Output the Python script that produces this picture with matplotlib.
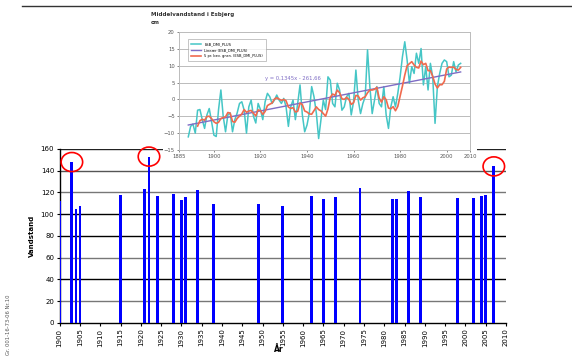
import numpy as np
import pandas as pd
import matplotlib.pyplot as plt
from matplotlib.patches import Ellipse

# --- storm surge maxima (bar chart) ---
storm_years = [1900, 1903, 1904, 1905, 1915, 1921, 1922, 1924, 1928, 1930, 1931,
               1934, 1938, 1949, 1955, 1962, 1965, 1968, 1974, 1982, 1983, 1986,
               1989, 1998, 2002, 2004, 2005, 2007]
storm_levels = [112, 148, 105, 108, 118, 123, 153, 117, 119, 113, 116,
                122, 109, 109, 108, 117, 114, 116, 124, 114, 114, 121,
                116, 115, 115, 117, 118, 144]
marked_years = [1903, 1922, 2007]

# --- annual mean sea level Esbjerg (inset) ---
msl_years = list(range(1889, 2007))
msl_values = [-11.1, -8.0, -7.3, -10.0, -3.2, -3.0, -6.0, -8.6, -4.6, -2.7,
              -6.6, -10.6, -11.0, -3.0, 2.8, -5.0, -9.6, -4.6, -4.0, -9.6,
              -6.0, -4.0, -1.2, -0.7, -3.2, -10.0, -2.2, -0.2, -5.0, -7.0,
              -1.2, -3.0, -6.0, -0.7, 1.8, 0.8, -1.2, -0.2, 1.3, -0.2,
              -1.2, 0.3, -2.2, -8.0, -2.2, -0.2, -6.0, -1.2, 4.3, -4.6,
              -9.6, -7.6, -4.0, 3.8, 0.8, -4.0, -11.6, -6.0, -0.2, -3.0,
              6.7, 5.7, -1.2, -2.2, 4.8, 2.8, -3.2, -2.2, 0.8, 1.8,
              -4.6, -0.7, 8.7, -0.2, -4.2, -1.2, 0.8, 14.7, 3.8, -4.2,
              -0.2, 3.8, -1.2, -2.2, 3.8, -4.6, -8.6, -2.2, 0.8, -2.2,
              1.8, 6.7, 12.7, 17.1, 11.7, 4.8, 9.7, 7.7, 13.7, 10.7,
              15.1, 4.3, 9.7, 2.8, 10.7, 6.7, -7.1, 3.8, 7.7, 10.7,
              11.7, 11.2, 6.7, 7.2, 11.2, 8.2, 10.2, 10.7]
trend_coef = [0.1345, -261.66]

msl = pd.Series(msl_values, index=msl_years)
msl_avg = msl.rolling(5).mean()
trend = trend_coef[0] * msl.index.values + trend_coef[1]

CYAN = "#45C6C6"
SALMON = "#F06A4E"
PURPLE = "#7E6CC4"

fig = plt.figure(figsize=(5.72, 3.59), dpi=100, facecolor="white")

# heading rule at the very top
fig.add_artist(plt.Line2D([0.038, 1.0], [0.983, 0.983], color="#333333", lw=1.0))

# ── bar chart ─────────────────────────────────────────────────────────────
ax = fig.add_axes([0.1044, 0.1003, 0.7802, 0.4847])
ax.bar(storm_years, storm_levels, width=0.7, color="#0000FF", zorder=3)

grid_cols = ["#777777", "#000000", "#777777", "#000000", "#000000",
             "#777777", "#555555", "#222222"]
for lvl, c in zip(range(20, 161, 20), grid_cols):
    ax.axhline(lvl, color=c, lw=1.0, zorder=1)

for yr in marked_years:
    val = storm_levels[storm_years.index(yr)]
    ax.add_patch(Ellipse((yr, val), 5.3, 17.5, fill=False, edgecolor="red",
                         lw=1.2, zorder=5, clip_on=False))

ax.set_xlim(1900, 2010)
ax.set_ylim(0, 160)
ax.set_xticks(range(1900, 2011, 5))
ax.set_xticklabels([str(y) for y in range(1900, 2011, 5)], rotation=90,
                   fontsize=5)
ax.set_yticks(range(0, 161, 20))
ax.tick_params(axis="y", labelsize=5, length=2.5, width=0.8, pad=1.5)
ax.tick_params(axis="x", length=2.5, width=0.8, pad=1.5)
for s in ["top", "right"]:
    ax.spines[s].set_visible(False)
ax.spines["left"].set_linewidth(1.0)
ax.spines["bottom"].set_linewidth(1.0)
ax.set_ylabel("Vandstand", fontsize=5, fontweight="bold", labelpad=4)
ax.set_xlabel("År", fontsize=5.5, fontweight="bold")
ax.xaxis.set_label_coords(0.49, -0.125)

# ── inset: mean sea level ────────────────────────────────────────────────
cover = fig.add_axes([0.285, 0.546, 0.549, 0.07])
cover.set_facecolor("white")
cover.set_xticks([])
cover.set_yticks([])
for s in cover.spines.values():
    s.set_visible(False)

ins = fig.add_axes([0.3129, 0.5822, 0.5087, 0.3287])
ins.set_facecolor("white")
ins.plot(msl.index, msl.values, color=CYAN, lw=1.1,
         label="ESB_DMI_PLUS", zorder=3)
ins.plot(msl.index, trend, color=PURPLE, lw=1.0,
         label="Lineær (ESB_DMI_PLUS)", zorder=4)
ins.plot(msl_avg.index, msl_avg.values, color=SALMON, lw=1.2,
         label="5 pr. bev. gnsn. (ESB_DMI_PLUS)", zorder=5)

ins.set_xlim(1885, 2010)
ins.set_ylim(-15, 20)
ins.set_yticks(range(-15, 21, 5))
ins.set_xticks([1885, 1900, 1920, 1940, 1960, 1980, 2000, 2010])
ins.grid(axis="y", color="#BBBBBB", lw=0.7)
ins.tick_params(labelsize=3.8, colors="#555555", length=1.5, width=0.5, pad=1.5)
for s in ins.spines.values():
    s.set_color("#BBBBBB")
    s.set_linewidth(0.7)
ins.spines["top"].set_visible(False)

leg = ins.legend(loc="upper left", bbox_to_anchor=(0.024, 0.955), fontsize=2.6,
                 frameon=True, fancybox=False, edgecolor="#999999",
                 handlelength=3.0, borderpad=0.8, labelspacing=0.6)
leg.get_frame().set_linewidth(0.5)

ins.text(1934, 6.2, "y = 0,1345x - 261,66", fontsize=3.8, color=PURPLE,
         ha="center", va="center")

fig.text(0.264, 0.961, "Middelvandstand i Esbjerg", fontsize=4,
         fontweight="bold", color="#333333", ha="left", va="center")
fig.text(0.264, 0.936, "cm", fontsize=4, fontweight="bold", color="#333333",
         ha="left", va="center")

# archive note
fig.text(0.014, 0.012, "Gr. 001-16-73-06 Nr.10", rotation=90, fontsize=3.8,
         color="#555555", ha="center", va="bottom")

fig.savefig("out.png", dpi=100, facecolor="white")
